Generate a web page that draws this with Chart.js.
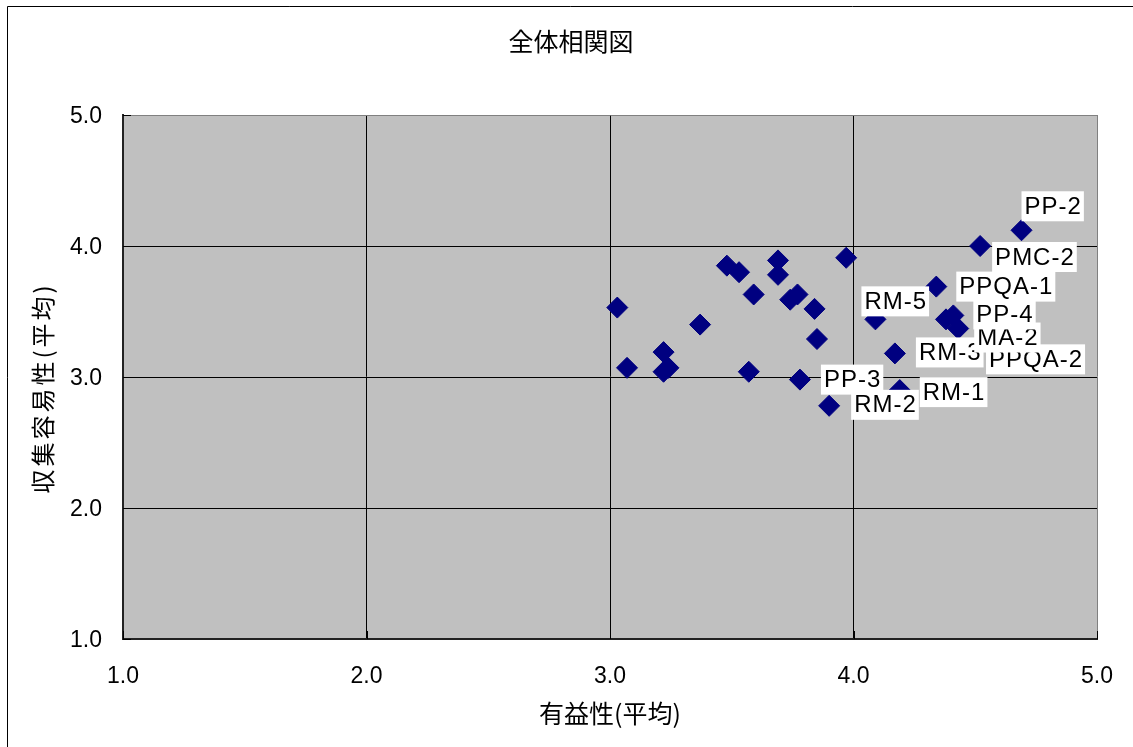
<!DOCTYPE html>
<html>
<head>
<meta charset="utf-8">
<script src="https://cdn.jsdelivr.net/npm/chart.js@4.4.1/dist/chart.umd.min.js"></script>
<style>
  html, body { margin: 0; padding: 0; background: #ffffff; }
  #wrap { width: 1133px; height: 747px; }
</style>
</head>
<body>
<div id="wrap"><canvas id="c" width="1133" height="747"></canvas></div>
<script>
// Text
const chartTitle = '全体相関図';
const xAxisTitle = '有益性(平均)';
const yAxisTitle = '収集容易性(平均)';
const axisTicks = [1.0, 2.0, 3.0, 4.0, 5.0];

// Items: name (empty = unlabeled), usefulness (x), ease of collection (y)
const itemNames = [
  '', '', '', '', '', '', '', '', '', '', '', '', '', '', '', '', '',
  'PP-3', 'RM-2', 'RM-5', 'RM-3', 'RM-1', 'PPQA-1', 'PPQA-2', 'MA-2', 'PP-4', 'PMC-2', 'PP-2'
];
const usefulness = [
  3.03, 3.07, 3.22, 3.22, 3.24, 3.37, 3.48, 3.53, 3.59, 3.57, 3.69, 3.69, 3.74, 3.77, 3.84, 3.85, 3.97,
  3.78, 3.90, 4.09, 4.17, 4.19, 4.34, 4.38, 4.43, 4.41, 4.52, 4.69
];
const easeOfCollection = [
  3.53, 3.07, 3.19, 3.04, 3.07, 3.40, 3.85, 3.80, 3.63, 3.04, 3.89, 3.78, 3.59, 3.63, 3.52, 3.29, 3.91,
  2.98, 2.78, 3.44, 3.18, 2.90, 3.69, 3.44, 3.37, 3.47, 4.00, 4.12
];

// Data-label placement: box left edge and box centre relative to the marker (px)
const labelPlacement = {
  'PP-3':   { dx: 21,  dy: 0 },
  'RM-2':   { dx: 22,  dy: -1 },
  'RM-5':   { dx: -14, dy: -18 },
  'RM-3':   { dx: 21,  dy: -1 },
  'RM-1':   { dx: 20,  dy: 2 },
  'PPQA-1': { dx: 20,  dy: 0 },
  'PPQA-2': { dx: 40,  dy: 40 },
  'MA-2':   { dx: 16,  dy: 9 },
  'PP-4':   { dx: 20,  dy: -1 },
  'PMC-2':  { dx: 12,  dy: 11 },
  'PP-2':   { dx: 0,   dy: -24 }
};

const latinFont = '"Liberation Sans", Arial, sans-serif';
const cjkFont = '"Noto Sans CJK JP", "Noto Sans", sans-serif';

const chartFrame = {
  id: 'chartFrame',
  beforeDraw(chart) {
    const { ctx, chartArea: a } = chart;
    ctx.save();
    ctx.fillStyle = '#ffffff';
    ctx.fillRect(0, 0, chart.width, chart.height);
    // outer frame
    ctx.strokeStyle = '#000000';
    ctx.lineWidth = 1;
    ctx.beginPath();
    ctx.moveTo(7.5, chart.height + 2);
    ctx.lineTo(7.5, 6.5);
    ctx.lineTo(chart.width + 2, 6.5);
    ctx.stroke();
    // plot area fill
    ctx.fillStyle = '#c0c0c0';
    ctx.fillRect(a.left, a.top, a.right - a.left, a.bottom - a.top);
    // titles
    ctx.fillStyle = '#000000';
    ctx.textAlign = 'center';
    ctx.textBaseline = 'middle';
    ctx.font = '25px ' + cjkFont;
    ctx.fillText(chartTitle, 571, 41);
    ctx.fillText(xAxisTitle, (a.left + a.right) / 2, 713);
    ctx.translate(43, (a.top + a.bottom) / 2 + 11);
    ctx.rotate(-Math.PI / 2);
    ctx.font = '24px ' + cjkFont;
    ctx.letterSpacing = '3px';
    ctx.fillText(yAxisTitle, 0, 0);
    ctx.letterSpacing = '0px';
    ctx.restore();
  },
  beforeDatasetsDraw(chart) {
    // inward tick marks on both axes
    const { ctx, chartArea: a, scales } = chart;
    ctx.save();
    ctx.strokeStyle = '#000000';
    ctx.lineWidth = 1;
    ctx.beginPath();
    scales.y.ticks.forEach(t => {
      const py = Math.round(scales.y.getPixelForValue(t.value)) + 0.5;
      ctx.moveTo(a.left, py);
      ctx.lineTo(a.left + 8, py);
    });
    scales.x.ticks.forEach(t => {
      const px = Math.round(scales.x.getPixelForValue(t.value)) + 0.5;
      ctx.moveTo(px, a.bottom);
      ctx.lineTo(px, a.bottom - 8);
    });
    ctx.stroke();
    ctx.restore();
  }
};

const dataLabels = {
  id: 'dataLabels',
  afterDatasetsDraw(chart) {
    const { ctx } = chart;
    const meta = chart.getDatasetMeta(0);
    ctx.save();
    ctx.font = '24px ' + latinFont;
    ctx.letterSpacing = '1px';
    ctx.textBaseline = 'middle';
    ctx.textAlign = 'left';
    itemNames.forEach((name, i) => {
      if (!name) return;
      const el = meta.data[i];
      const p = labelPlacement[name] || { dx: 20, dy: 0 };
      const w = ctx.measureText(name).width + 5;
      const left = el.x + p.dx;
      const cy = el.y + p.dy;
      ctx.fillStyle = '#ffffff';
      ctx.fillRect(left, cy - 15, w, 30);
      ctx.fillStyle = '#000000';
      ctx.fillText(name, left + 3, cy + 1);
    });
    ctx.letterSpacing = '0px';
    ctx.restore();
  }
};

const gridColor = c => (c.tick && c.tick.value === 5 ? '#808080' : '#000000');

function axisOptions(isX) {
  return {
    type: 'linear',
    min: 1,
    max: 5,
    afterBuildTicks: s => { s.ticks = axisTicks.map(v => ({ value: v })); },
    afterFit: s => {
      if (isX) { s.height = 108; s.paddingLeft = 0; s.paddingRight = 0; }
      else { s.width = 123; s.paddingTop = 0; s.paddingBottom = 0; }
    },
    ticks: {
      callback: v => Number(v).toFixed(1),
      color: '#000000',
      font: { family: latinFont, size: 23 },
      padding: isX ? 24 : 21,
      labelOffset: isX ? 0 : 2,
      maxRotation: 0,
      autoSkip: false
    },
    grid: { color: gridColor, lineWidth: 1, drawTicks: false },
    border: { display: true, color: '#222222', width: 2 }
  };
}

new Chart(document.getElementById('c'), {
  type: 'scatter',
  data: {
    datasets: [{
      data: usefulness.map((x, i) => ({ x, y: easeOfCollection[i] })),
      pointStyle: 'rectRot',
      pointRadius: 10.5,
      pointHoverRadius: 10.5,
      backgroundColor: '#000080',
      borderColor: '#000080',
      borderWidth: 1
    }]
  },
  options: {
    responsive: false,
    animation: false,
    devicePixelRatio: 1,
    layout: { padding: { top: 115, right: 36, left: 0, bottom: 0 } },
    plugins: { legend: { display: false }, title: { display: false }, tooltip: { enabled: false } },
    events: [],
    scales: { x: axisOptions(true), y: axisOptions(false) }
  },
  plugins: [chartFrame, dataLabels]
});
</script>
</body>
</html>
